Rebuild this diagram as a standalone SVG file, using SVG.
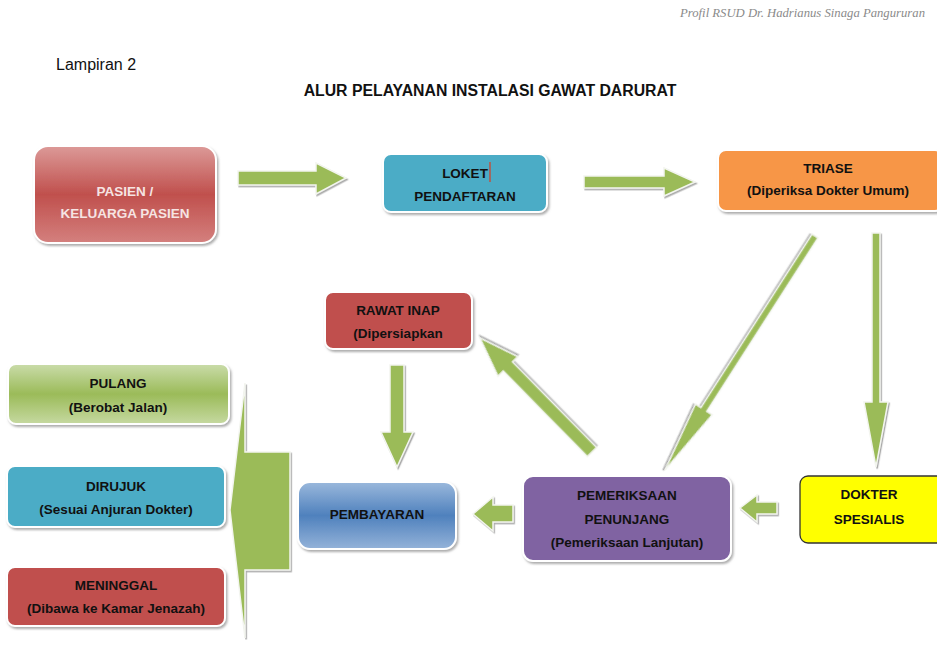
<svg xmlns="http://www.w3.org/2000/svg" width="937" height="645" viewBox="0 0 937 645">
<defs>
<style>
.t{font-family:"Liberation Sans",Arial,sans-serif;font-weight:bold;font-size:13.5px;fill:#111;text-anchor:middle}
.tw{fill:#f6e4e3}
.box{stroke:#ffffff;stroke-width:2;filter:url(#sh)}
.arr{fill:#9bbb59;stroke:#f3f5ef;stroke-width:1.5;stroke-linejoin:miter;filter:url(#ash)}
</style>
<filter id="sh" x="-10%" y="-10%" width="125%" height="130%">
<feDropShadow dx="1.5" dy="2" stdDeviation="1" flood-color="#777" flood-opacity="0.6"/>
</filter>
<filter id="ash" x="-20%" y="-20%" width="140%" height="140%">
<feDropShadow dx="1.2" dy="1.5" stdDeviation="0.7" flood-color="#888" flood-opacity="0.7"/>
</filter>
<linearGradient id="gRed" x1="0" y1="0" x2="0" y2="1">
<stop offset="0" stop-color="#dc9a98"/>
<stop offset="0.5" stop-color="#c0504d"/>
<stop offset="1" stop-color="#d4807e"/>
</linearGradient>
<linearGradient id="gGreen" x1="0" y1="0" x2="0" y2="1">
<stop offset="0" stop-color="#cadcaa"/>
<stop offset="0.5" stop-color="#9bbb59"/>
<stop offset="1" stop-color="#c6d9a1"/>
</linearGradient>
<linearGradient id="gBlue" x1="0" y1="0" x2="0" y2="1">
<stop offset="0" stop-color="#9ab8dc"/>
<stop offset="0.5" stop-color="#4f81bd"/>
<stop offset="1" stop-color="#94b3d9"/>
</linearGradient>
</defs>
<rect width="937" height="645" fill="#ffffff"/>

<text x="925" y="17" font-family="Liberation Serif,serif" font-style="italic" font-size="12" fill="#8a8a8a" text-anchor="end" textLength="245" lengthAdjust="spacingAndGlyphs">Profil RSUD Dr. Hadrianus Sinaga Pangururan</text>
<text x="56" y="70" font-family="Liberation Sans,Arial,sans-serif" font-size="16" fill="#111">Lampiran 2</text>
<text x="490" y="96" font-family="Liberation Sans,Arial,sans-serif" font-weight="bold" font-size="15.8" fill="#111" text-anchor="middle">ALUR PELAYANAN INSTALASI GAWAT DARURAT</text>

<g id="connectors">
<polygon class="arr" points="238,171 316,171 316,163 346,178 316,194 316,185 238,185"/>
<polygon class="arr" points="584,176 664,176 664,168 695,182 664,196 664,188 584,188"/>
<polygon class="arr" transform="translate(815,236) rotate(122.66)" points="0,-3.5 206,-3.5 206,-10 278,0 206,10 206,3.5 0,3.5"/>
<polygon class="arr" points="872,233 880,233 880,402 888,402 876,467 864,402 872,402"/>
<polygon class="arr" points="777,502 757,502 757,495 740,508 757,522 757,514 777,514"/>
<polygon class="arr" transform="translate(592,452) rotate(-134.5)" points="0,-6.5 120,-6.5 120,-14 160,0 120,14 120,6.5 0,6.5"/>
<polygon class="arr" points="390,365 404,365 404,432 413,432 397,467 381,432 390,432"/>
<polygon class="arr" points="513,505 493,505 493,497 473,514 493,531 493,522 513,522"/>
<polygon class="arr" points="290,452 245,452 245,383 230,510 245,638 245,570 290,570"/>
</g>

<g id="node-pasien">
<rect class="box" x="34" y="146" width="182" height="97" rx="14" fill="url(#gRed)"/>
<text class="t tw" x="125" y="196">PASIEN /</text>
<text class="t tw" x="125" y="218">KELUARGA PASIEN</text>
</g>

<g id="node-loket">
<rect class="box" x="383" y="154" width="164" height="58" rx="8" fill="#4bacc6"/>
<text class="t" x="465" y="178">LOKET</text>
<line x1="490" y1="162" x2="490" y2="182" stroke="#d0442c" stroke-width="1.3"/>
<text class="t" x="465" y="201">PENDAFTARAN</text>
</g>

<g id="node-triase">
<rect class="box" x="718" y="150" width="225" height="61" rx="8" fill="#f79646"/>
<text class="t" x="828" y="173">TRIASE</text>
<text class="t" x="828" y="195">(Diperiksa Dokter Umum)</text>
</g>

<g id="node-rawat-inap">
<rect class="box" x="325" y="292" width="147" height="57" rx="8" fill="#c0504d"/>
<text class="t" x="398" y="315">RAWAT INAP</text>
<text class="t" x="398" y="338">(Dipersiapkan</text>
</g>

<g id="node-pulang">
<rect class="box" x="8" y="364" width="221" height="60" rx="8" fill="url(#gGreen)"/>
<text class="t" x="118" y="388">PULANG</text>
<text class="t" x="118" y="412">(Berobat Jalan)</text>
</g>

<g id="node-dirujuk">
<rect class="box" x="7" y="466" width="218" height="61" rx="8" fill="#4bacc6"/>
<text class="t" x="116" y="491">DIRUJUK</text>
<text class="t" x="116" y="514">(Sesuai Anjuran Dokter)</text>
</g>

<g id="node-meninggal">
<rect class="box" x="7" y="567" width="218" height="59" rx="8" fill="#c0504d"/>
<text class="t" x="116" y="590">MENINGGAL</text>
<text class="t" x="116" y="613">(Dibawa ke Kamar Jenazah)</text>
</g>

<g id="node-pembayaran">
<rect class="box" x="298" y="482" width="158" height="67" rx="12" fill="url(#gBlue)"/>
<text class="t" x="377" y="519">PEMBAYARAN</text>
</g>

<g id="node-pemeriksaan">
<rect class="box" x="523" y="476" width="208" height="85" rx="10" fill="#8064a2"/>
<text class="t" x="627" y="500">PEMERIKSAAN</text>
<text class="t" x="627" y="524">PENUNJANG</text>
<text class="t" x="627" y="547">(Pemeriksaan Lanjutan)</text>
</g>

<g id="node-dokter">
<rect x="800" y="476" width="145" height="67" rx="8" fill="#ffff00" stroke="#333" stroke-width="1.3"/>
<text class="t" x="869" y="499">DOKTER</text>
<text class="t" x="869" y="524">SPESIALIS</text>
</g>
</svg>
